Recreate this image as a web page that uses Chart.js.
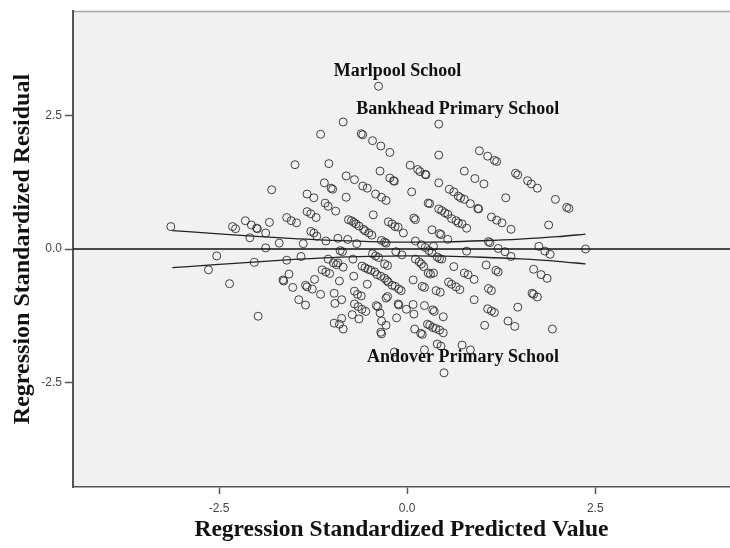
<!DOCTYPE html>
<html>
<head>
<meta charset="utf-8">
<script src="https://cdn.jsdelivr.net/npm/chart.js@4/dist/chart.umd.min.js"></script>
<style>
  html, body { margin: 0; padding: 0; background: #ffffff; }
  canvas { display: block; }
</style>
</head>
<body>
<canvas id="plot" width="730" height="548"></canvas>
<script>
// Standardized predicted values (x) and standardized residuals (y), one entry per school
const predicted = [
  -0.85,-1.15,-0.61,-0.59,-0.46,-0.35,-0.23,0.42,0.96,1.07,1.16,1.19,-1.49,-1.04,0.04,0.14,0.24,0.25,0.76,0.90,
  1.02,-0.36,-0.23,-0.18,-0.17,1.44,1.47,1.60,1.65,1.73,1.97,2.12,2.15,1.88,-0.81,-0.70,-0.59,-0.53,-0.42,-0.34,
  -0.28,-1.10,-1.01,-0.99,-0.81,-0.95,-1.09,-1.33,-1.24,-1.80,0.06,0.42,0.56,0.62,0.68,0.71,0.76,0.84,0.94,0.95,
  1.31,0.28,0.30,0.42,0.46,0.50,0.54,0.59,0.65,0.68,0.73,0.79,1.12,1.19,1.26,1.38,0.09,0.11,0.33,0.43,
  0.45,0.54,-0.45,-0.25,-0.20,-0.16,-0.12,-0.05,-0.78,-0.74,-0.71,-0.68,-0.64,-0.58,-0.56,-0.51,-0.47,-0.34,-0.30,-0.28,
  -1.33,-1.28,-1.21,-1.60,-1.54,-1.47,-1.28,-1.24,-1.20,-1.08,-0.92,-0.79,-0.67,-1.38,-1.70,-1.88,-1.83,-1.99,-2.09,-1.88,
  -2.07,-2.00,-2.15,-2.32,-2.28,-3.14,-2.53,-2.64,-2.36,-2.03,-1.98,-1.60,-1.41,-1.57,-1.65,-1.64,-1.52,-1.44,-1.35,-1.35,
  -1.33,-1.23,-1.26,-1.15,-1.13,-1.08,-1.03,-1.05,-0.92,-0.85,-0.89,-0.86,-0.72,-0.90,-0.71,-0.97,-0.96,-0.87,-0.70,-0.66,
  -0.61,-0.70,-0.65,-0.60,-0.53,-0.60,-0.56,-0.52,-0.48,-0.43,-0.40,-0.35,-0.30,-0.27,-0.46,-0.42,-0.38,-0.30,-0.26,-0.25,
  -0.20,-0.16,-0.11,-0.08,-0.15,-0.07,-0.26,-0.28,-0.12,-0.11,-0.01,-0.14,-0.41,-0.39,-0.55,-0.73,-0.64,-0.97,-0.87,-0.85,
  -0.90,-0.34,-0.35,-0.34,-0.28,-0.17,0.08,0.20,0.23,0.11,0.16,0.19,0.22,0.11,0.19,0.24,0.29,0.33,0.40,0.43,
  0.46,0.28,0.31,0.62,0.76,0.81,0.89,0.55,0.59,0.65,0.70,0.79,0.89,0.08,0.23,0.34,0.36,0.09,0.48,0.10,
  0.18,0.20,0.27,0.30,0.34,0.38,0.43,0.48,0.23,0.40,0.45,0.73,0.84,1.03,1.07,1.12,1.16,1.08,1.12,1.18,
  1.21,1.05,1.21,1.08,1.10,1.30,1.38,1.34,1.43,1.47,1.68,1.78,1.86,1.66,1.68,1.73,1.93,1.75,1.83,1.90,
  2.37,0.17,-1.05,-0.98,-0.94,-0.36,0.385,0.44,0.35,0.35
];
const residual = [
  2.38,2.15,2.16,2.14,2.03,1.93,1.81,1.76,1.84,1.74,1.66,1.64,1.58,1.60,1.57,1.49,1.40,1.39,1.46,1.32,
  1.22,1.46,1.33,1.28,1.27,1.42,1.39,1.28,1.22,1.14,0.93,0.78,0.76,0.45,1.37,1.30,1.18,1.14,1.03,0.97,
  0.91,1.24,1.14,1.12,0.97,0.71,0.86,1.03,0.96,1.11,1.07,1.24,1.12,1.07,0.99,0.96,0.93,0.85,0.76,0.75,
  0.96,0.86,0.85,0.75,0.72,0.68,0.65,0.57,0.53,0.49,0.47,0.39,0.60,0.54,0.49,0.37,0.58,0.55,0.36,0.29,
  0.27,0.18,0.64,0.51,0.47,0.42,0.41,0.30,0.55,0.53,0.50,0.47,0.43,0.37,0.34,0.30,0.26,0.16,0.13,0.11,
  0.70,0.66,0.59,0.59,0.53,0.49,0.33,0.30,0.24,0.15,0.20,0.18,0.10,0.10,0.11,0.02,0.50,0.38,0.21,0.30,
  0.45,0.39,0.53,0.42,0.38,0.42,-0.13,-0.39,-0.65,-0.25,-1.26,-0.21,-0.14,-0.47,-0.58,-0.60,-0.72,-0.95,-1.05,-0.68,
  -0.71,-0.57,-0.75,-0.85,-0.39,-0.43,-0.46,-0.19,-0.26,-0.34,-0.03,-0.05,-0.19,-0.60,-0.51,-0.83,-1.02,-0.95,-0.79,-0.85,
  -0.88,-1.03,-1.08,-1.13,-0.66,-0.32,-0.35,-0.38,-0.40,-0.43,-0.48,-0.51,-0.55,-0.59,-0.09,-0.13,-0.16,-0.28,-0.31,-0.62,
  -0.68,-0.70,-0.75,-0.78,-0.05,-0.11,-0.89,-0.92,-1.03,-1.05,-1.13,-1.29,-1.06,-1.08,-1.17,-1.23,-1.31,-1.39,-1.30,-1.50,
  -1.41,-1.35,-1.56,-1.59,-1.43,-1.93,-0.58,-0.70,-0.72,-0.19,-0.24,-0.28,-0.33,0.15,0.08,0.03,-0.03,-0.07,-0.15,-0.18,
  -0.19,-0.45,-0.47,-0.33,-0.45,-0.48,-0.57,-0.62,-0.66,-0.71,-0.76,-0.04,-0.95,-1.04,-1.06,-1.14,-1.17,-1.22,-1.27,-1.50,
  -1.58,-1.60,-1.41,-1.43,-1.47,-1.49,-1.52,-1.57,-1.89,-1.78,-1.82,-1.80,-1.89,-1.43,-1.12,-1.16,-1.19,-0.74,-0.78,-0.40,
  -0.43,-0.30,0.01,0.14,0.12,-0.05,-0.14,-1.35,-1.45,-1.09,-0.38,-0.48,-0.55,-0.83,-0.85,-0.90,-1.50,0.05,-0.04,-0.10,
  0.00,1.45,0.80,-0.26,-0.295,-1.20,-0.78,-0.81,0.05,-0.45
];

// Cases marked with their names
const caseNames = ['Marlpool School', 'Bankhead Primary School', 'Andover Primary School'];
const casePredicted = [-0.38, 0.42, 0.49];
const caseResidual = [3.05, 2.34, -2.32];

// Confidence band around the fitted line
const bandX = [-3.12, -2.5, -2.0, -1.5, -1.0, -0.5, 0.0, 0.5, 1.0, 1.5, 2.0, 2.37];
const bandUpper = [0.345, 0.285, 0.235, 0.195, 0.16, 0.14, 0.13, 0.135, 0.155, 0.185, 0.23, 0.28];
const bandLower = [-0.35, -0.29, -0.24, -0.195, -0.16, -0.14, -0.13, -0.135, -0.155, -0.185, -0.23, -0.28];

// Axis ranges and ticks
const xRange = [-4.44, 4.29];
const yRange = [-4.46, 4.46];
const xTicks = [-2.5, 0, 2.5];
const xTickLabels = ['-2.5', '0.0', '2.5'];
const yTicks = [-2.5, 0, 2.5];
const yTickLabels = ['-2.5', '0.0', '2.5'];

const xTitle = 'Regression Standardized Predicted Value';
const yTitle = 'Regression Standardized Residual';

const scatterPoints = predicted.map((x, i) => ({ x, y: residual[i] }));
const casePoints = casePredicted.map((x, i) => ({ x, y: caseResidual[i] }));
const upperLine = bandX.map((x, i) => ({ x, y: bandUpper[i] }));
const lowerLine = bandX.map((x, i) => ({ x, y: bandLower[i] }));
const zeroLine = [{ x: xRange[0], y: 0 }, { x: xRange[1], y: 0 }];

const pointStyle = {
  pointRadius: 4,
  pointBorderWidth: 1,
  pointBorderColor: 'rgba(45,45,45,0.9)',
  pointBackgroundColor: 'rgba(0,0,0,0)',
  showLine: false
};

// Grey plot area with a thin upper frame
const plotBackground = {
  id: 'plotBackground',
  beforeDraw(chart) {
    const { ctx, chartArea: a } = chart;
    ctx.save();
    ctx.fillStyle = '#f1f1f1';
    ctx.fillRect(a.left, a.top, a.right - a.left, a.bottom - a.top);
    ctx.strokeStyle = '#a8a8a8';
    ctx.lineWidth = 1.5;
    ctx.beginPath();
    ctx.moveTo(a.left, a.top + 0.5);
    ctx.lineTo(a.right, a.top + 0.5);
    ctx.stroke();
    ctx.restore();
  }
};

// Case names written next to their points
const caseLabels = {
  id: 'caseLabels',
  afterDatasetsDraw(chart) {
    const { ctx, scales } = chart;
    ctx.save();
    ctx.font = 'bold 18px "Liberation Serif", "Times New Roman", serif';
    ctx.fillStyle = '#111111';
    ctx.textAlign = 'center';
    ctx.textBaseline = 'middle';
    caseNames.forEach((name, i) => {
      const px = scales.x.getPixelForValue(casePredicted[i]);
      const py = scales.y.getPixelForValue(caseResidual[i]);
      ctx.fillText(name, px + 19, py - 15);
    });
    ctx.restore();
  }
};

new Chart(document.getElementById('plot'), {
  type: 'scatter',
  data: {
    datasets: [
      { type: 'line', data: zeroLine, borderColor: '#111111', borderWidth: 1.5, pointRadius: 0, order: 1 },
      { type: 'line', data: upperLine, borderColor: '#222222', borderWidth: 1.3, pointRadius: 0, tension: 0.4, cubicInterpolationMode: 'monotone', order: 2 },
      { type: 'line', data: lowerLine, borderColor: '#222222', borderWidth: 1.3, pointRadius: 0, tension: 0.4, cubicInterpolationMode: 'monotone', order: 3 },
      Object.assign({ data: scatterPoints, order: 4 }, pointStyle),
      Object.assign({ data: casePoints, order: 5 }, pointStyle)
    ]
  },
  options: {
    responsive: false,
    animation: false,
    devicePixelRatio: 1,
    layout: { autoPadding: false, padding: { top: 11, right: 0, bottom: 0, left: 0 } },
    plugins: { legend: { display: false }, tooltip: { enabled: false } },
    scales: {
      x: {
        type: 'linear',
        min: xRange[0],
        max: xRange[1],
        afterBuildTicks: s => { s.ticks = xTicks.map(v => ({ value: v })); },
        afterFit: s => { s.height = 61; s.paddingLeft = 0; s.paddingRight = 0; },
        grid: { drawOnChartArea: false, drawTicks: true, tickLength: 7, tickColor: '#555555', tickWidth: 1.5 },
        border: { display: true, color: '#555555', width: 1.5 },
        ticks: {
          autoSkip: false, maxRotation: 0, padding: 7, color: '#444444',
          font: { family: '"Liberation Sans", Arial, sans-serif', size: 12 },
          callback: v => xTickLabels[xTicks.indexOf(v)]
        },
        title: {
          display: true, text: xTitle, color: '#111111',
          font: { family: '"Liberation Serif", "Times New Roman", serif', size: 23.5, weight: 'bold' },
          padding: { top: 0, bottom: 4 }
        }
      },
      y: {
        type: 'linear',
        min: yRange[0],
        max: yRange[1],
        afterBuildTicks: s => { s.ticks = yTicks.map(v => ({ value: v })); },
        afterFit: s => { s.width = 73; s.paddingTop = 0; s.paddingBottom = 0; },
        grid: { drawOnChartArea: false, drawTicks: true, tickLength: 8, tickColor: '#555555', tickWidth: 1.5 },
        border: { display: true, color: '#555555', width: 2 },
        ticks: {
          autoSkip: false, padding: 3, color: '#444444',
          font: { family: '"Liberation Sans", Arial, sans-serif', size: 12 },
          callback: v => yTickLabels[yTicks.indexOf(v)]
        },
        title: {
          display: true, text: yTitle, color: '#111111',
          font: { family: '"Liberation Serif", "Times New Roman", serif', size: 24, weight: 'bold' },
          padding: { top: 8, bottom: 0 }
        }
      }
    }
  },
  plugins: [plotBackground, caseLabels]
});
</script>
</body>
</html>
